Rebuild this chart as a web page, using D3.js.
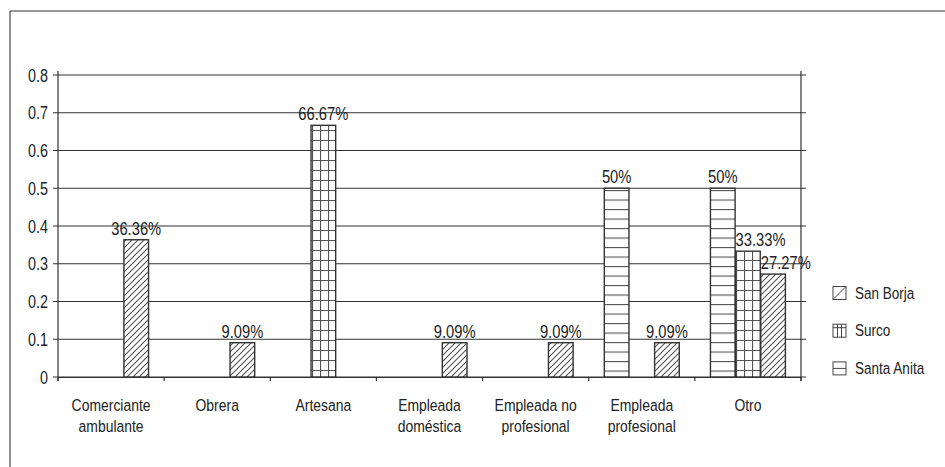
<!DOCTYPE html>
<html>
<head>
<meta charset="utf-8">
<script src="https://cdn.jsdelivr.net/npm/d3@7"></script>
<style>
  html, body { margin: 0; padding: 0; background: #fff; }
  svg text { font-family: "Liberation Sans Narrow", "Arial Narrow", "Liberation Sans", Arial, sans-serif; fill: #222; }
</style>
</head>
<body>
<div id="chart"></div>
<script>
// occupations (two-line labels) and share per district
const categories = [
  ['Comerciante', 'ambulante'],
  ['Obrera'],
  ['Artesana'],
  ['Empleada', 'doméstica'],
  ['Empleada no', 'profesional'],
  ['Empleada', 'profesional'],
  ['Otro']
];
const sanBorja   = [0.3636, 0.0909, 0, 0.0909, 0.0909, 0.0909, 0.2727];
const surco      = [0, 0, 0.6667, 0, 0, 0, 0.3333];
const santaAnita = [0, 0, 0, 0, 0, 0.5, 0.5];
const yTicks = [0, 0.1, 0.2, 0.3, 0.4, 0.5, 0.6, 0.7, 0.8];

// bar order inside each group, left to right
const series = [
  { name: 'Santa Anita', values: santaAnita, fill: 'hlines' },
  { name: 'Surco', values: surco, fill: 'grid' },
  { name: 'San Borja', values: sanBorja, fill: 'diag' }
];
const legendOrder = ['San Borja', 'Surco', 'Santa Anita'];

const W = 945, H = 467;
const plot = { left: 58, right: 801, top: 75, bottom: 377 };

// no narrow face installed, so squeeze the regular one horizontally
const NARROW = 0.82;
function narrowText(parent, x, y, lines, size, anchor, lineGap, dy0) {
  const g = parent.append('g').attr('transform', `translate(${x},${y}) scale(${NARROW},1)`);
  const t = g.append('text').attr('font-size', size).attr('text-anchor', anchor || 'middle');
  [].concat(lines).forEach((ln, k) => {
    t.append('tspan').attr('x', 0).attr('dy', k === 0 ? (dy0 || 0) : lineGap).text(ln);
  });
  return t;
}

const svg = d3.select('#chart').append('svg')
  .attr('width', W).attr('height', H);

// hatch patterns
const defs = svg.append('defs');
const diag = defs.append('pattern').attr('id', 'diag')
  .attr('patternUnits', 'userSpaceOnUse').attr('width', 6).attr('height', 6);
diag.append('rect').attr('width', 6).attr('height', 6).attr('fill', '#fff');
diag.append('path').attr('d', 'M-1,1 l2,-2 M0,6 l6,-6 M5,7 l2,-2')
  .attr('stroke', '#555').attr('stroke-width', 1.1);

const grid = defs.append('pattern').attr('id', 'grid')
  .attr('patternUnits', 'userSpaceOnUse').attr('width', 8).attr('height', 10);
grid.append('rect').attr('width', 8).attr('height', 10).attr('fill', '#fff');
grid.append('path').attr('d', 'M0.5,0 V10 M0,0.5 H8')
  .attr('stroke', '#555').attr('stroke-width', 1.2);

const hl = defs.append('pattern').attr('id', 'hlines')
  .attr('patternUnits', 'userSpaceOnUse').attr('width', 8).attr('height', 9.5);
hl.append('rect').attr('width', 8).attr('height', 9.5).attr('fill', '#fff');
hl.append('path').attr('d', 'M0,0.5 H8')
  .attr('stroke', '#555').attr('stroke-width', 1.2);

// frame (partly outside the view)
svg.append('line').attr('x1', 10).attr('x2', W).attr('y1', 11).attr('y2', 11)
  .attr('stroke', '#999').attr('stroke-width', 2);
svg.append('line').attr('x1', 10).attr('x2', 10).attr('y1', 11).attr('y2', H)
  .attr('stroke', '#444').attr('stroke-width', 1.2);

const x0 = d3.scaleBand()
  .domain(d3.range(categories.length))
  .range([plot.left, plot.right])
  .paddingInner(0).paddingOuter(0);
const x1 = d3.scaleBand()
  .domain(series.map(s => s.name))
  .range([0, x0.bandwidth()])
  .paddingOuter(0.62).paddingInner(0.02);
const y = d3.scaleLinear().domain([0, 0.8]).range([plot.bottom, plot.top]);

// gridlines, crossing both vertical axes
svg.append('g').selectAll('line').data(yTicks).join('line')
  .attr('x1', plot.left - 5).attr('x2', plot.right + 5)
  .attr('y1', d => y(d)).attr('y2', d => y(d))
  .attr('stroke', '#333').attr('stroke-width', 1.2);

// left axis labels
const yAxis = svg.append('g')
  .attr('transform', `translate(${plot.left},0)`)
  .call(d3.axisLeft(y).tickValues(yTicks).tickSize(0).tickFormat(''));
yAxis.select('.domain').remove();
yAxis.selectAll('.tick').each(function (d) {
  narrowText(d3.select(this), -10, 0, d === 0 ? '0' : d.toFixed(1), 17.5, 'end', 0, '0.35em');
});

// vertical axis lines
[plot.left, plot.right].forEach(xv => {
  svg.append('line').attr('x1', xv).attr('x2', xv)
    .attr('y1', plot.top - 4).attr('y2', plot.bottom + 4)
    .attr('stroke', '#333').attr('stroke-width', 1.2);
});

// category axis
const xAxis = svg.append('g')
  .attr('transform', `translate(0,${plot.bottom})`)
  .call(d3.axisBottom(x0).tickSize(0).tickFormat(''));
xAxis.select('.domain').attr('stroke', '#333').attr('stroke-width', 1.2);
xAxis.selectAll('.tick').remove();
svg.append('g').selectAll('line')
  .data(d3.range(categories.length + 1))
  .join('line')
  .attr('x1', i => plot.left + i * x0.bandwidth())
  .attr('x2', i => plot.left + i * x0.bandwidth())
  .attr('y1', plot.bottom).attr('y2', plot.bottom + 4)
  .attr('stroke', '#333').attr('stroke-width', 1.2);

const catG = svg.append('g');
categories.forEach((lines, i) => {
  narrowText(catG, x0(i) + x0.bandwidth() / 2, 411, lines, 17, 'middle', 21);
});

// bars
const pct = v => d3.format('.2~f')(v * 100) + '%';
const bars = [];
series.forEach(s => s.values.forEach((v, i) => {
  if (v > 0) bars.push({ s, i, v });
}));

svg.append('g').selectAll('rect').data(bars).join('rect')
  .attr('x', d => x0(d.i) + x1(d.s.name))
  .attr('width', x1.bandwidth())
  .attr('y', d => y(d.v))
  .attr('height', d => y(0) - y(d.v))
  .attr('fill', d => `url(#${d.s.fill})`)
  .attr('stroke', '#333').attr('stroke-width', 1.4);

// value labels; in the crowded last group the two short bars are left aligned
const crowded = d => d.i === categories.length - 1 && d.s.name !== 'Santa Anita';
const valG = svg.append('g');
bars.forEach(d => {
  const left = x0(d.i) + x1(d.s.name);
  narrowText(valG,
    crowded(d) ? left : left + x1.bandwidth() / 2,
    y(d.v) - 5, pct(d.v), 18, crowded(d) ? 'start' : 'middle');
});

// legend
const lg = svg.append('g').attr('transform', 'translate(833,0)');
legendOrder.forEach((name, k) => {
  const cy = 293 + k * 37.7;
  const g = lg.append('g').attr('transform', `translate(0,${cy - 6.5})`);
  g.append('rect').attr('width', 13).attr('height', 13)
    .attr('fill', '#fff').attr('stroke', '#444').attr('stroke-width', 1);
  let marks = '';
  if (name === 'San Borja') marks = 'M0,13 L13,0';
  if (name === 'Surco') marks = 'M0,3.5 H13 M4.5,0 V13 M8.5,0 V13';
  if (name === 'Santa Anita') marks = 'M0,6.5 H13';
  g.append('path').attr('d', marks).attr('stroke', '#444').attr('stroke-width', 1).attr('fill', 'none');
  narrowText(lg, 22, cy, name, 16.5, 'start', 0, '0.35em');
});
</script>
</body>
</html>
